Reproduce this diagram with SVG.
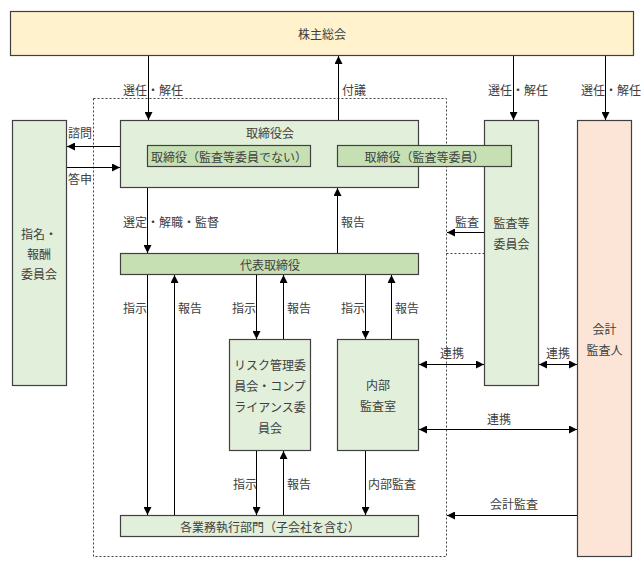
<svg xmlns="http://www.w3.org/2000/svg" width="642" height="569" viewBox="0 0 642 569">
<defs>
<marker id="ah" viewBox="0 0 10 10" refX="10" refY="5" markerWidth="8" markerHeight="8" markerUnits="userSpaceOnUse" orient="auto-start-reverse">
<path d="M0,0 L10,5 L0,10 z" fill="#000"/>
</marker>
<style>
text{font-family:"Noto Sans CJK JP","Noto Sans",sans-serif;font-size:12px;fill:#404040;dominant-baseline:central}
.c{text-anchor:middle}
.box{stroke:#404040;stroke-width:1.2}
.lg{fill:#E2EFDA}
.dg{fill:#C6E0B4}
.ln{stroke:#000;stroke-width:1;fill:none}
.dot{stroke:#404040;stroke-width:1;stroke-dasharray:2,2;fill:none}
</style>
</defs>
<rect x="0" y="0" width="642" height="569" fill="#fff"/>
<g id="region">
<rect x="93.5" y="98.5" width="353" height="458" fill="#F2F2F2" class="dot"/>
<line x1="446.5" y1="253.5" x2="484" y2="253.5" class="dot"/>
</g>
<g id="shareholders">
<rect x="10.5" y="11.5" width="623" height="44" fill="#FFF2CC" class="box"/>
<text x="322" y="33" class="c">株主総会</text>
</g>
<g id="nomination">
<rect x="12.5" y="120.5" width="54" height="265" class="box lg"/>
<text x="39" y="233" class="c">指名・</text>
<text x="39" y="253" class="c">報酬</text>
<text x="39" y="273" class="c">委員会</text>
</g>
<g id="board">
<rect x="120.5" y="120.5" width="298" height="67" class="box lg"/>
<text x="270" y="132" class="c">取締役会</text>
</g>
<g id="auditcommittee">
<rect x="484.5" y="120.5" width="54" height="265" class="box lg"/>
<text x="511.5" y="222" class="c">監査等</text>
<text x="511.5" y="243" class="c">委員会</text>
</g>
<g id="directors-nonaudit">
<rect x="147.5" y="145.5" width="163" height="21" class="box dg"/>
<text x="229" y="156" class="c">取締役（監査等委員でない）</text>
</g>
<g id="directors-audit">
<rect x="337.5" y="145.5" width="174" height="21" class="box dg"/>
<text x="424.5" y="156" class="c">取締役（監査等委員）</text>
</g>
<g id="accountant">
<rect x="577.5" y="120.5" width="54" height="436" fill="#FCE4D6" class="box"/>
<text x="604.5" y="328" class="c">会計</text>
<text x="604.5" y="349" class="c">監査人</text>
</g>
<g id="representative">
<rect x="120.5" y="253.5" width="298" height="21" class="box dg"/>
<text x="270" y="264" class="c">代表取締役</text>
</g>
<g id="risk">
<rect x="229.5" y="339.5" width="81" height="111" class="box lg"/>
<text x="270" y="364" class="c">リスク管理委</text>
<text x="270" y="385" class="c">員会・コンプ</text>
<text x="270" y="406" class="c">ライアンス委</text>
<text x="270" y="427" class="c">員会</text>
</g>
<g id="internalaudit">
<rect x="337.5" y="339.5" width="81" height="111" class="box lg"/>
<text x="378" y="384" class="c">内部</text>
<text x="378" y="405" class="c">監査室</text>
</g>
<g id="divisions">
<rect x="120.5" y="515.5" width="298" height="21" class="box lg"/>
<text x="270" y="526" class="c">各業務執行部門（子会社を含む）</text>
</g>
<g id="connectors">
<line x1="148.5" y1="56" x2="148.5" y2="120" class="ln" marker-end="url(#ah)"/>
<line x1="338.5" y1="120" x2="338.5" y2="56" class="ln" marker-end="url(#ah)"/>
<line x1="513.5" y1="56" x2="513.5" y2="120" class="ln" marker-end="url(#ah)"/>
<line x1="605.5" y1="56" x2="605.5" y2="120" class="ln" marker-end="url(#ah)"/>
<line x1="120" y1="146.5" x2="67" y2="146.5" class="ln" marker-end="url(#ah)"/>
<line x1="67" y1="167.5" x2="120" y2="167.5" class="ln" marker-end="url(#ah)"/>
<line x1="147.5" y1="188" x2="147.5" y2="253" class="ln" marker-end="url(#ah)"/>
<line x1="337.5" y1="253" x2="337.5" y2="188" class="ln" marker-end="url(#ah)"/>
<line x1="484" y1="232.5" x2="447" y2="232.5" class="ln" marker-end="url(#ah)"/>
<line x1="147.5" y1="275" x2="147.5" y2="515" class="ln" marker-end="url(#ah)"/>
<line x1="174.5" y1="515" x2="174.5" y2="275" class="ln" marker-end="url(#ah)"/>
<line x1="256.5" y1="275" x2="256.5" y2="339" class="ln" marker-end="url(#ah)"/>
<line x1="283.5" y1="339" x2="283.5" y2="275" class="ln" marker-end="url(#ah)"/>
<line x1="365.5" y1="275" x2="365.5" y2="339" class="ln" marker-end="url(#ah)"/>
<line x1="391.5" y1="339" x2="391.5" y2="275" class="ln" marker-end="url(#ah)"/>
<line x1="256.5" y1="451" x2="256.5" y2="515" class="ln" marker-end="url(#ah)"/>
<line x1="283.5" y1="515" x2="283.5" y2="451" class="ln" marker-end="url(#ah)"/>
<line x1="365.5" y1="451" x2="365.5" y2="515" class="ln" marker-end="url(#ah)"/>
<line x1="419" y1="364.5" x2="484" y2="364.5" class="ln" marker-start="url(#ah)" marker-end="url(#ah)"/>
<line x1="539" y1="364.5" x2="577" y2="364.5" class="ln" marker-start="url(#ah)" marker-end="url(#ah)"/>
<line x1="419" y1="429.5" x2="577" y2="429.5" class="ln" marker-start="url(#ah)" marker-end="url(#ah)"/>
<line x1="577" y1="515.5" x2="447" y2="515.5" class="ln" marker-end="url(#ah)"/>
</g>
<g id="labels">
<text x="153" y="89" class="c">選任・解任</text>
<text x="342" y="89">付議</text>
<text x="518" y="89" class="c">選任・解任</text>
<text x="611" y="89" class="c">選任・解任</text>
<text x="68" y="132">諮問</text>
<text x="68" y="178">答申</text>
<text x="123" y="221">選定・解職・監督</text>
<text x="341" y="221">報告</text>
<text x="455" y="221">監査</text>
<text x="123" y="307">指示</text>
<text x="178" y="307">報告</text>
<text x="232" y="307">指示</text>
<text x="287" y="307">報告</text>
<text x="341" y="307">指示</text>
<text x="395" y="307">報告</text>
<text x="452" y="352" class="c">連携</text>
<text x="558" y="352" class="c">連携</text>
<text x="499" y="418" class="c">連携</text>
<text x="233" y="483">指示</text>
<text x="287" y="483">報告</text>
<text x="368" y="483">内部監査</text>
<text x="514" y="503" class="c">会計監査</text>
</g>
</svg>
